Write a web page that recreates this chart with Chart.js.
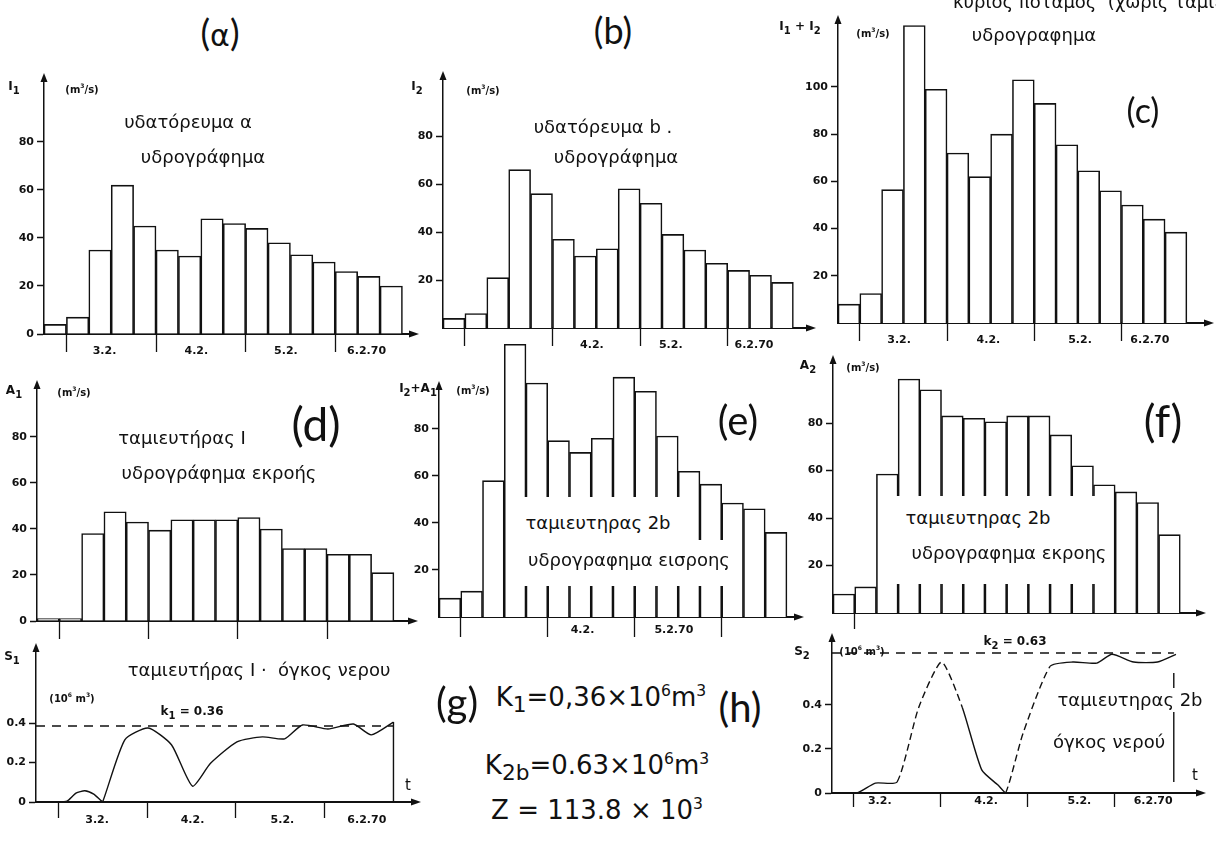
<!DOCTYPE html>
<html>
<head>
<meta charset="utf-8">
<script src="https://cdn.jsdelivr.net/npm/chart.js@4.4.1/dist/chart.umd.min.js"></script>
<style>
  body { margin: 0; background: #fff; }
  #page { position: relative; width: 1216px; height: 843px; overflow: hidden; background: #fff;
          font-family: "DejaVu Sans", sans-serif; color: #111; }
  #page canvas { position: absolute; }
  .t { position: absolute; white-space: nowrap; transform: translate(-50%, -50%); line-height: 1; z-index: 3; }
  .gr { font-size: 18px; }
  .ax { font-size: 12px; font-weight: bold; }
  .un { font-size: 10px; font-weight: bold; }
  .hw { font-family: Lato, "Open Sans", sans-serif; font-weight: 400; }
  .fm { font-size: 26px; }
  .fm sup, .ax sup, .un sup { font-size: 0.6em; }
  .box { position: absolute; background: #fff; z-index: 2; }
</style>
</head>
<body>
<div id="page">
  <!-- top row -->
  <div class="t gr" style="left:953px;top:2px;transform:translate(0,-50%)">κύριος ποταμός &nbsp;(χωρίς ταμιευτήρα)</div>
  <div class="t hw" style="left:220px;top:32px;font-size:36px">(<span style="font-family:'DejaVu Sans';font-size:30px">α</span>)</div>
  <div class="t hw" style="left:613px;top:30px;font-size:36px">(b)</div>
  <div class="t hw" style="left:1143px;top:110px;font-size:34px">(c)</div>
  <div class="t ax" style="left:14px;top:88px">I<sub>1</sub></div>
  <div class="t un" style="left:82px;top:89px">(m<sup>3</sup>/s)</div>
  <div class="t ax" style="left:417px;top:88px">I<sub>2</sub></div>
  <div class="t un" style="left:483px;top:90px">(m<sup>3</sup>/s)</div>
  <div class="t ax" style="left:800px;top:28px">I<sub>1</sub> + I<sub>2</sub></div>
  <div class="t un" style="left:873px;top:33px">(m<sup>3</sup>/s)</div>
  <div class="t gr" style="left:188px;top:122px">υδατόρευμα α</div>
  <div class="t gr" style="left:203px;top:157px">υδρογράφημα</div>
  <div class="t gr" style="left:603px;top:127px">υδατόρευμα b .</div>
  <div class="t gr" style="left:616px;top:157px">υδρογράφημα</div>
  <div class="t gr" style="left:1034px;top:35px">υδρογραφημα</div>

  <!-- middle row -->
  <div class="t hw" style="left:316px;top:424px;font-size:46px">(d)</div>
  <div class="t hw" style="left:738px;top:420px;font-size:40px">(e)</div>
  <div class="t hw" style="left:1163px;top:420px;font-size:44px">(f)</div>
  <div class="t ax" style="left:14px;top:392px">A<sub>1</sub></div>
  <div class="t un" style="left:74px;top:392px">(m<sup>3</sup>/s)</div>
  <div class="t ax" style="left:418px;top:390px">I<sub>2</sub>+A<sub>1</sub></div>
  <div class="t un" style="left:473px;top:390px">(m<sup>3</sup>/s)</div>
  <div class="t ax" style="left:808px;top:367px">A<sub>2</sub></div>
  <div class="t un" style="left:863px;top:367px">(m<sup>3</sup>/s)</div>
  <div class="t gr" style="left:182px;top:438px">ταμιευτήρας Ι</div>
  <div class="t gr" style="left:219px;top:473px">υδρογράφημα εκροής</div>
  <div class="box" style="left:506px;top:497px;width:186px;height:89px"></div>
  <div class="box" style="left:690px;top:540px;width:36px;height:46px"></div>
  <div class="t gr" style="left:598px;top:523px">ταμιευτηρας 2b</div>
  <div class="t gr" style="left:629px;top:560px">υδρογραφημα εισροης</div>
  <div class="box" style="left:893px;top:496px;width:219px;height:88px"></div>
  <div class="t gr" style="left:978px;top:518px">ταμιευτηρας 2b</div>
  <div class="t gr" style="left:1009px;top:553px">υδρογραφημα εκροης</div>

  <!-- bottom row -->
  <div class="t ax" style="left:12px;top:658px">S<sub>1</sub></div>
  <div class="t un" style="left:72px;top:698px">(10<sup>6</sup> m<sup>3</sup>)</div>
  <div class="t gr" style="left:259px;top:670px">ταμιευτήρας Ι · &nbsp;όγκος νερου</div>
  <div class="t un" style="left:192px;top:713px;font-size:12px">k<sub>1</sub> = 0.36</div>
  <div class="t" style="left:408px;top:785px;font-size:15px">t</div>
  <div class="t ax" style="left:802px;top:653px">S<sub>2</sub></div>
  <div class="t un" style="left:862px;top:651px">(10<sup>6</sup> m<sup>3</sup>)</div>
  <div class="t un" style="left:1015px;top:643px;font-size:12px">k<sub>2</sub> = 0.63</div>
  <div class="t gr" style="left:1130px;top:700px;background:#fff;padding:3px 0">ταμιευτηρας 2b</div>
  <div class="t gr" style="left:1109px;top:742px">όγκος νερού</div>
  <div class="t" style="left:1195px;top:775px;font-size:15px">t</div>

  <div class="t hw" style="left:457px;top:702px;font-size:40px">(g)</div>
  <div class="t fm" style="left:601px;top:700px">K<sub>1</sub>=0,36×10<sup>6</sup>m<sup>3</sup></div>
  <div class="t hw" style="left:740px;top:707px;font-size:40px">(h)</div>
  <div class="t fm" style="left:597px;top:768px">K<sub>2b</sub>=0.63×10<sup>6</sup>m<sup>3</sup></div>
  <div class="t fm" style="left:597px;top:810px">Z = 113.8 × 10<sup>3</sup></div>
</div>

<script>
// flows per time step (16 steps), m3/s
const inflowA = [4, 7, 35, 62, 45, 35, 32.5, 48, 46, 44, 38, 33, 30, 26, 24, 20];
const inflowB = [4, 6, 21, 66, 56, 37, 30, 33, 58, 52, 39, 32.5, 27, 24, 22, 19];
const inflowC = [8, 12.5, 56.5, 126, 99, 72, 62, 80, 103, 93, 75.5, 64.5, 56, 50, 44, 38.5];
const outflow1 = [1, 1, 38, 47.5, 43, 39.5, 44, 44, 44, 45, 40, 31.5, 31.5, 29, 29, 21];
const inflow2b = [8, 11, 58, 116, 99.5, 75, 70, 76, 102, 96, 77, 62, 56.5, 48.5, 46, 36];
const outflow2b = [8, 11, 58.5, 98.5, 94, 83, 82, 80.5, 83, 83, 75, 62, 54, 51, 46.5, 33];

// storage volumes, 10^6 m3
const storage1Time = [0, 1, 1.4, 1.8, 2.2, 2.6, 2.9, 3.0, 4.0, 5.05, 6.1, 7.05, 7.85, 9.05, 10.2, 11.2, 12.0, 13.15, 14.3, 15.1, 16.1];
const storage1Vol = [0, 0, 0.005, 0.045, 0.057, 0.04, 0.01, 0, 0.315, 0.375, 0.29, 0.08, 0.195, 0.305, 0.33, 0.32, 0.39, 0.37, 0.395, 0.34, 0.405];
const storage2Time = [0, 1.15, 2.0, 3.0, 4.0, 5.05, 6.0, 6.9, 7.65, 8.0, 8.8, 10.05, 11.1, 12.2, 12.9, 13.9, 15.0, 15.85];
const storage2Vol = [0, 0, 0.045, 0.05, 0.39, 0.595, 0.39, 0.105, 0.036, 0, 0.27, 0.575, 0.595, 0.59, 0.63, 0.595, 0.595, 0.63];
const k1Level = 0.385;
const k2Level = 0.636;
const end1 = [16.1, 0.405, 0];
const end2 = [15.75, 0.545, 0.05];

// axis ticks and labels
const dayMarks = [1, 5, 9, 13];
const flowTicks = [20, 40, 60, 80];
const flowTicks0 = [0, 20, 40, 60, 80];
const flowTicksC = [20, 40, 60, 80, 100];
const storageTicks = [0, 0.2, 0.4];
const labelsAll = ["3.2.", "4.2.", "5.2.", "6.2.70"];
const labelPosA = [2.7, 6.8, 10.8, 14.4];
const labelsB = ["4.2.", "5.2.", "6.2.70"];
const labelPosB = [6.8, 10.4, 14.2];
const labelPosC = [2.8, 6.9, 11.1, 14.3];
const labelsE = ["4.2.", "5.2.70"];
const labelPosE = [6.6, 10.8];
const labelPosS1 = [2.75, 7.05, 11.1, 14.9];
const labelPosS2 = [2.2, 7.1, 11.4, 14.8];

const INK = "#111";
const tickFont = { family: "DejaVu Sans", size: 11, weight: "bold" };

// arrow heads at the end of both axes
const arrows = {
  id: "arrows",
  afterDraw(chart) {
    const { ctx, chartArea: a } = chart;
    ctx.save();
    ctx.fillStyle = INK;
    ctx.beginPath();
    ctx.moveTo(a.left, a.top - 7);
    ctx.lineTo(a.left - 3.5, a.top + 2);
    ctx.lineTo(a.left + 3.5, a.top + 2);
    ctx.fill();
    ctx.beginPath();
    ctx.moveTo(a.right + 4, a.bottom);
    ctx.lineTo(a.right - 6, a.bottom - 3.5);
    ctx.lineTo(a.right - 6, a.bottom + 3.5);
    ctx.fill();
    ctx.restore();
  },
};

function makeCanvas(g) {
  const c = document.createElement("canvas");
  c.width = g.w;
  c.height = g.h;
  c.style.left = g.left + "px";
  c.style.top = g.top + "px";
  document.getElementById("page").appendChild(c);
  return c;
}

function options(g, yTicks, marks, labelPos, labels) {
  const xTicks = marks.concat(labelPos).sort((p, q) => p - q);
  return {
    responsive: false,
    animation: false,
    events: [],
    layout: { padding: { top: g.axisTop - g.top, right: g.left + g.w - g.axisEnd, left: 0, bottom: 0 } },
    plugins: { legend: { display: false }, tooltip: { enabled: false } },
    scales: {
      x: {
        type: "linear", min: 0, max: g.xMax, offset: false,
        afterFit: (s) => { s.height = g.top + g.h - g.base; },
        afterBuildTicks: (s) => { s.ticks = xTicks.map((v) => ({ value: v })); },
        border: { color: INK, width: 2 },
        grid: {
          offset: false, drawOnChartArea: false, tickLength: g.tickLen, tickWidth: 1.3,
          tickColor: (c) => (c.tick && marks.includes(c.tick.value) ? INK : "rgba(0,0,0,0)"),
        },
        ticks: {
          autoSkip: false, maxRotation: 0, padding: g.tickPad, color: INK, font: tickFont,
          callback: (v) => { const i = labelPos.indexOf(v); return i < 0 ? "" : labels[i]; },
        },
      },
      y: {
        min: 0, max: g.yMax,
        afterFit: (s) => { s.width = g.axis - g.left; },
        afterBuildTicks: (s) => { s.ticks = yTicks.map((v) => ({ value: v })); },
        border: { color: INK, width: 1.5 },
        grid: { drawOnChartArea: false, tickLength: 7, tickWidth: 1.5, tickColor: INK },
        ticks: { padding: 3, color: INK, font: tickFont, callback: (v) => (v === 0 ? "0" : String(v)) },
      },
    },
  };
}

function histogram(g, values, yTicks, marks, labelPos, labels) {
  return new Chart(makeCanvas(g), {
    type: "bar",
    data: {
      datasets: [{
        data: values.map((v, i) => ({ x: i + 0.5, y: v })),
        backgroundColor: "#fff",
        borderColor: INK,
        borderWidth: 1.6,
        barPercentage: 1,
        categoryPercentage: 1,
        clip: false,
      }],
    },
    options: options(g, yTicks, marks, labelPos, labels),
    plugins: [arrows],
  });
}

function storage(g, times, vols, kLevel, end, labelPos, dashed) {
  const opts = options(g, storageTicks, dayMarks, labelPos, labelsAll);
  opts.scales.y.ticks.callback = (v) => (v === 0 ? "0" : v.toFixed(1));
  return new Chart(makeCanvas(g), {
    type: "line",
    data: {
      datasets: [
        {
          data: times.map((t, i) => ({ x: t, y: vols[i] })),
          borderColor: INK, borderWidth: 1.4, pointRadius: 0, tension: 0.2,
          segment: {
            borderDash: (c) => (dashed.some(([a, b]) => c.p0.parsed.x >= a && c.p1.parsed.x <= b) ? [7, 4] : undefined),
          },
        },
        {
          data: [{ x: end[0], y: end[1] }, { x: end[0], y: end[2] }],
          borderColor: INK, borderWidth: 1.4, pointRadius: 0,
        },
        {
          data: [{ x: 0, y: kLevel }, { x: end[0], y: kLevel }],
          borderColor: INK, borderWidth: 1.4, pointRadius: 0, borderDash: [9, 7],
        },
      ],
    },
    options: opts,
    plugins: [arrows],
  });
}

const gA = { left: 0, top: 60, w: 422, h: 302, axis: 44, axisTop: 80, base: 334, axisEnd: 415, xMax: 16.56, yMax: 105.8, tickLen: 18, tickPad: -7 };
const gB = { left: 400, top: 55, w: 418, h: 303, axis: 443, axisTop: 78, base: 328, axisEnd: 812, xMax: 16.85, yMax: 104.2, tickLen: 18, tickPad: -7 };
const gC = { left: 795, top: 5, w: 421, h: 347, axis: 838, axisTop: 22, base: 323, axisEnd: 1210, xMax: 17.06, yMax: 127.5, tickLen: 18, tickPad: -7 };
const gD = { left: 0, top: 370, w: 420, h: 275, axis: 37, axisTop: 387, base: 621, axisEnd: 414, xMax: 16.9, yMax: 101.7, tickLen: 18, tickPad: -7 };
const gE = { left: 400, top: 330, w: 406, h: 315, axis: 439, axisTop: 388, base: 617, axisEnd: 800, xMax: 16.6, yMax: 97.4, tickLen: 20, tickPad: -13 };
const gF = { left: 790, top: 345, w: 418, h: 295, axis: 833, axisTop: 362, base: 613, axisEnd: 1202, xMax: 17.0, yMax: 105.7, tickLen: 16, tickPad: -7 };
const gS1 = { left: 0, top: 635, w: 423, h: 200, axis: 36, axisTop: 650, base: 802, axisEnd: 417, xMax: 17.16, yMax: 0.77, tickLen: 16, tickPad: -4 };
const gS2 = { left: 790, top: 625, w: 418, h: 195, axis: 832, axisTop: 640, base: 793, axisEnd: 1202, xMax: 17.05, yMax: 0.695, tickLen: 14, tickPad: -12 };

histogram(gA, inflowA, flowTicks0, dayMarks, labelPosA, labelsAll);
histogram(gB, inflowB, flowTicks, dayMarks, labelPosB, labelsB);
histogram(gC, inflowC, flowTicksC, dayMarks, labelPosC, labelsAll);
histogram(gD, outflow1, flowTicks0, dayMarks, [], []);
histogram(gE, inflow2b, flowTicks, dayMarks, labelPosE, labelsE);
histogram(gF, outflow2b, flowTicks, [1], [], []);
storage(gS1, storage1Time, storage1Vol, k1Level, end1, labelPosS1, []);
storage(gS2, storage2Time, storage2Vol, k2Level, end2, labelPosS2, [[3, 6], [8, 10.05]]);
</script>
</body>
</html>
